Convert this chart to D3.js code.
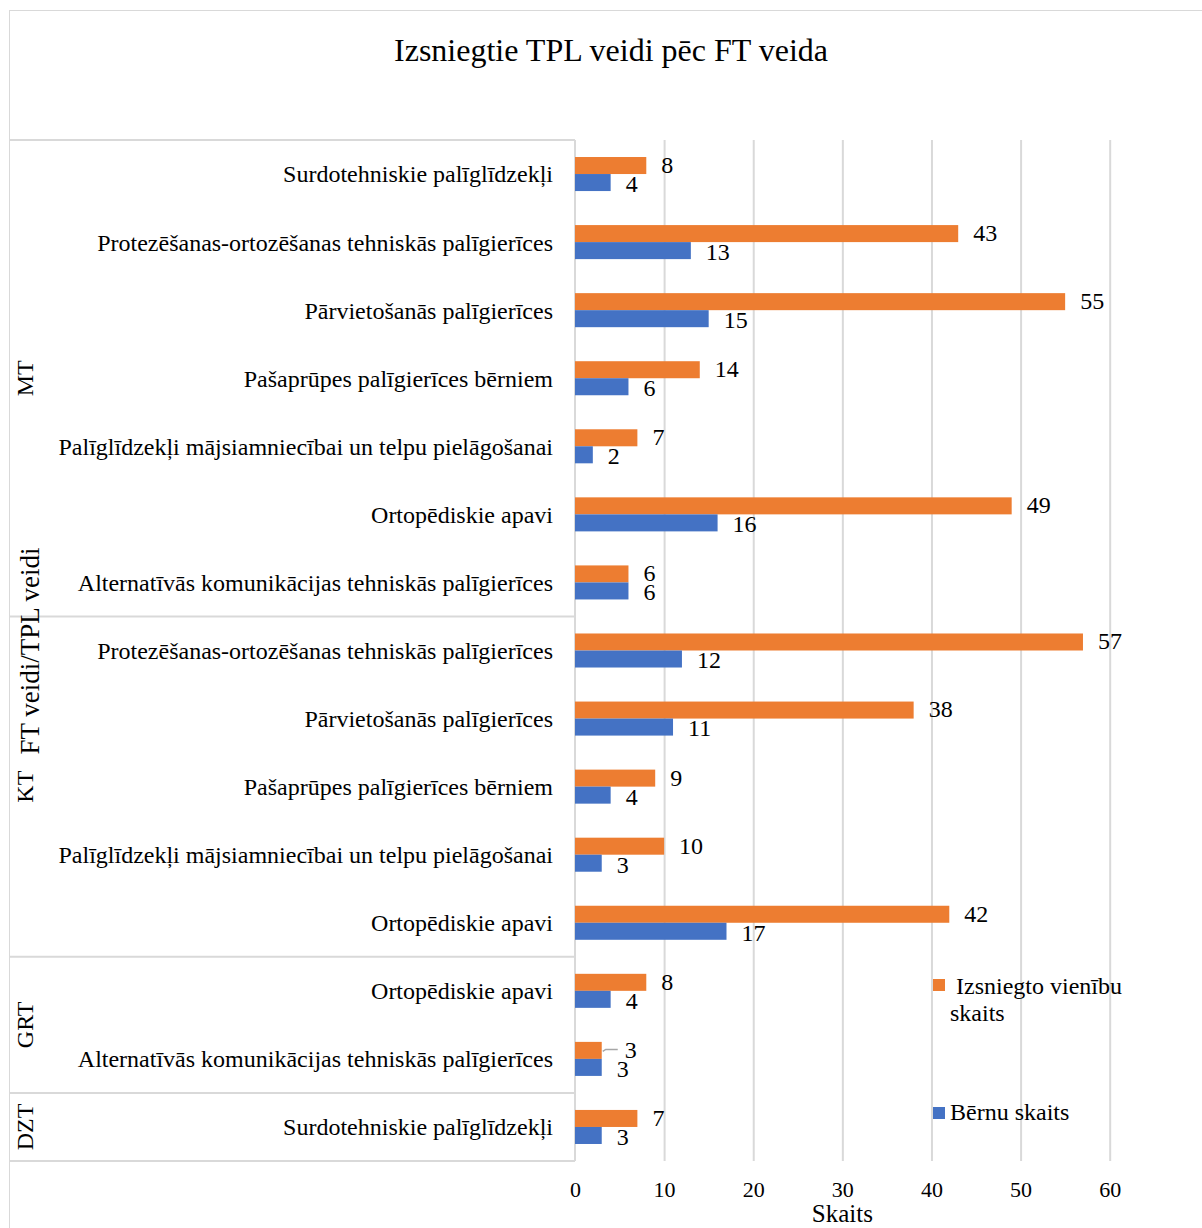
<!DOCTYPE html>
<html>
<head>
<meta charset="utf-8">
<script src="https://cdn.jsdelivr.net/npm/d3@7"></script>
<style>
  body { margin: 0; background: #fff; }
  text { font-family: "Liberation Serif", "Times New Roman", serif; fill: #000; }
</style>
</head>
<body>
<div id="chart"></div>
<script>
// Chart data
const groups = ["MT", "MT", "MT", "MT", "MT", "MT", "MT", "KT", "KT", "KT", "KT", "KT", "GRT", "GRT", "DZT"];
const categories = [
  "Surdotehniskie palīglīdzekļi",
  "Protezēšanas-ortozēšanas tehniskās palīgierīces",
  "Pārvietošanās palīgierīces",
  "Pašaprūpes palīgierīces bērniem",
  "Palīglīdzekļi mājsiamniecībai un telpu pielāgošanai",
  "Ortopēdiskie apavi",
  "Alternatīvās komunikācijas tehniskās palīgierīces",
  "Protezēšanas-ortozēšanas tehniskās palīgierīces",
  "Pārvietošanās palīgierīces",
  "Pašaprūpes palīgierīces bērniem",
  "Palīglīdzekļi mājsiamniecībai un telpu pielāgošanai",
  "Ortopēdiskie apavi",
  "Ortopēdiskie apavi",
  "Alternatīvās komunikācijas tehniskās palīgierīces",
  "Surdotehniskie palīglīdzekļi"
];
const unitsIssued = [8, 43, 55, 14, 7, 49, 6, 57, 38, 9, 10, 42, 8, 3, 7];
const childrenCount = [4, 13, 15, 6, 2, 16, 6, 12, 11, 4, 3, 17, 4, 3, 3];
const xTicks = [0, 10, 20, 30, 40, 50, 60];
const seriesNames = ["Izsniegto vienību skaits", "Bērnu skaits"];
const seriesColors = ["#ED7D31", "#4472C4"];

const W = 1202, H = 1228;
const plot = { left: 575, right: 1109.7, top: 140, bottom: 1161 };
const tableLeft = 9;
const grey = "#d9d9d9";

const svg = d3.select("#chart").append("svg")
  .attr("width", W)
  .attr("height", H);

// outer chart border
svg.append("rect")
  .attr("x", 9.5).attr("y", 10.5)
  .attr("width", W + 20).attr("height", H + 20)
  .attr("fill", "none")
  .attr("stroke", grey);

// Title
svg.append("text")
  .attr("x", 611)
  .attr("y", 61)
  .attr("text-anchor", "middle")
  .style("font-size", "32px")
  .text("Izsniegtie TPL veidi pēc FT veida");

const rows = d3.range(categories.length);
const x = d3.scaleLinear().domain([0, 60]).range([plot.left, plot.right]);
const y = d3.scaleBand().domain(rows).range([plot.top, plot.bottom])
  .paddingInner(0.5).paddingOuter(0.25);
const yRow = d3.scaleBand().domain(rows).range([plot.top, plot.bottom]);
const ySub = d3.scaleBand().domain([0, 1]).range([0, y.bandwidth()]);

// gridlines
svg.append("g")
  .attr("transform", "translate(0," + plot.bottom + ")")
  .call(d3.axisBottom(x).tickValues(xTicks.slice(1)).tickSize(-(plot.bottom - plot.top)).tickFormat(""))
  .call(g => g.select(".domain").remove())
  .call(g => g.selectAll("line").attr("stroke", grey).attr("stroke-width", 2));

// x tick labels
svg.append("g")
  .attr("transform", "translate(0," + plot.bottom + ")")
  .call(d3.axisBottom(x).tickValues(xTicks).tickSize(0).tickPadding(20))
  .call(g => g.select(".domain").remove())
  .call(g => g.selectAll("text").style("font-size", "22px").style("font-family", '"Liberation Serif", serif'));

// x axis title
svg.append("text")
  .attr("x", (plot.left + plot.right) / 2)
  .attr("y", 1222)
  .attr("text-anchor", "middle")
  .style("font-size", "25px")
  .text("Skaits");

// category table lines
const groupNames = Array.from(new Set(groups));
const groupSpans = groupNames.map(gn => {
  const idx = rows.filter(i => groups[i] === gn);
  return { name: gn, y0: yRow(idx[0]), y1: yRow(idx[idx.length - 1]) + yRow.bandwidth() };
});

const table = svg.append("g");
table.append("line")
  .attr("x1", tableLeft).attr("x2", plot.left)
  .attr("y1", plot.top).attr("y2", plot.top)
  .attr("stroke", grey).attr("stroke-width", 2);
groupSpans.forEach(s => {
  table.append("line")
    .attr("x1", tableLeft).attr("x2", plot.left)
    .attr("y1", s.y1).attr("y2", s.y1)
    .attr("stroke", grey).attr("stroke-width", 2);
});
table.append("line")
  .attr("x1", plot.left).attr("x2", plot.left)
  .attr("y1", plot.top).attr("y2", plot.bottom)
  .attr("stroke", grey).attr("stroke-width", 2);

// category labels
svg.append("g").selectAll("text")
  .data(rows)
  .join("text")
  .attr("x", 553)
  .attr("y", i => yRow(i) + yRow.bandwidth() / 2)
  .attr("dy", "0.35em")
  .attr("text-anchor", "end")
  .style("font-size", "24px")
  .text(i => categories[i]);

// group labels
svg.append("g").selectAll("text")
  .data(groupSpans)
  .join("text")
  .attr("transform", s => "translate(33," + ((s.y0 + s.y1) / 2) + ") rotate(-90)")
  .attr("text-anchor", "middle")
  .style("font-size", "24px")
  .text(s => s.name);

// y axis title
svg.append("text")
  .attr("transform", "translate(39,651) rotate(-90)")
  .attr("text-anchor", "middle")
  .style("font-size", "27px")
  .text("FT veidi/TPL veidi");

// bars
const series = [unitsIssued, childrenCount];
series.forEach((vals, si) => {
  svg.append("g").selectAll("rect")
    .data(rows)
    .join("rect")
    .attr("x", x(0))
    .attr("y", i => y(i) + ySub(si))
    .attr("width", i => x(vals[i]) - x(0))
    .attr("height", ySub.bandwidth())
    .attr("fill", seriesColors[si]);

  svg.append("g").selectAll("text")
    .data(rows)
    .join("text")
    .attr("x", i => {
      // small overlapping label gets pulled right with a leader line
      if (si === 0 && vals[i] === childrenCount[i] && vals[i] < 5) return x(vals[i]) + 23;
      return x(vals[i]) + 15;
    })
    .attr("y", i => y(i) + ySub(si) + ySub.bandwidth() / 2 + (si === 0 ? -1 : 1))
    .attr("dy", "0.35em")
    .style("font-size", "24px")
    .text(i => vals[i]);
});

// leader line for the crowded label
rows.filter(i => unitsIssued[i] === childrenCount[i] && unitsIssued[i] < 5).forEach(i => {
  const yc = y(i) + ySub(0) + ySub.bandwidth() / 2;
  svg.append("path")
    .attr("d", "M" + (x(unitsIssued[i]) + 1) + "," + (yc + 1) + " L" + (x(unitsIssued[i]) + 4) + "," + (yc - 1) + " L" + (x(unitsIssued[i]) + 16) + "," + (yc - 1))
    .attr("fill", "none")
    .attr("stroke", "#a6a6a6")
    .attr("stroke-width", 1.5);
});

// legend
const legend = svg.append("g");
legend.append("rect").attr("x", 933).attr("y", 979).attr("width", 12).attr("height", 12).attr("fill", seriesColors[0]);
legend.append("text").attr("x", 956).attr("y", 994).style("font-size", "24px").text("Izsniegto vienību");
legend.append("text").attr("x", 950).attr("y", 1021).style("font-size", "24px").text("skaits");
legend.append("rect").attr("x", 933).attr("y", 1107).attr("width", 12).attr("height", 12).attr("fill", seriesColors[1]);
legend.append("text").attr("x", 950).attr("y", 1120).style("font-size", "24px").text(seriesNames[1]);
</script>
</body>
</html>
